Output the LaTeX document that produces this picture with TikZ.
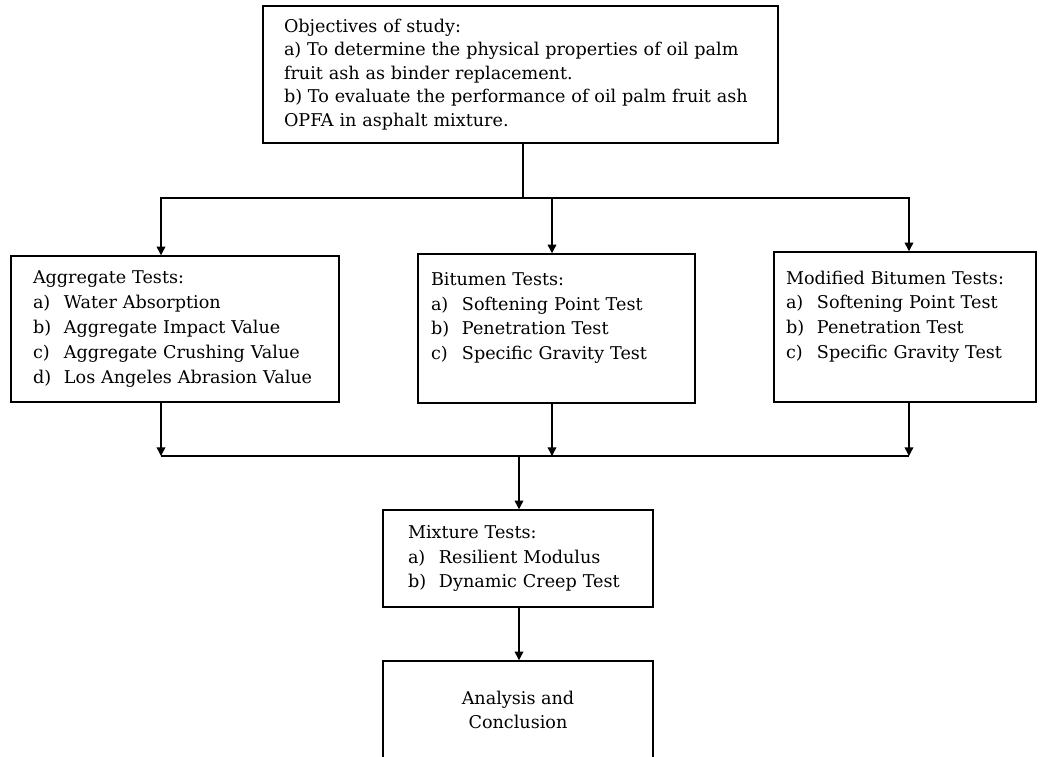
\documentclass[tikz,border=0pt]{standalone}
\usepackage{fontspec}
\setmainfont{DejaVu Serif}
\usetikzlibrary{arrows.meta,positioning,calc}
\newlength\px
\setlength\px{0.75pt}
\newcommand{\itm}[1]{\makebox[31\px][l]{#1}}

\begin{document}
\begin{tikzpicture}[x=1\px,y=-1\px,
    box/.style={draw,line width=1.1pt,rectangle,align=left,inner ysep=0pt,
        font=\fontsize{13.2}{18.6}\selectfont},
    flow/.style={line width=1.05pt,-{Triangle[length=6.5pt,width=6.5pt]}},
    link/.style={line width=1.05pt}]
            \useasboundingbox (0,0) rectangle (1040,757);
            \node[box,minimum width=515\px,minimum height=137\px,
                inner xsep=21\px,text width=473\px,
                font=\fontsize{13.2}{17.6}\selectfont]
            (obj) at (520.5,74.5) {Objectives of study:\\
                a) To determine the physical properties of oil palm\\
                fruit ash as binder replacement.\\
                b) To evaluate the performance of oil palm fruit ash\\
                OPFA in asphalt mixture.};
            \node[box,minimum width=328\px,minimum height=146\px,
                inner xsep=22\px,text width=284\px]
            (agg) at (175,329) {Aggregate Tests:\\
                \itm{a)}Water Absorption\\
                \itm{b)}Aggregate Impact Value\\
                \itm{c)}Aggregate Crushing Value\\
                \itm{d)}Los Angeles Abrasion Value};
            \node[box,minimum width=277\px,minimum height=149\px,
                inner xsep=13\px,text width=251\px]
            (bit) at (556.5,328.5) {Bitumen Tests:\\
                \itm{a)}Softening Point Test\\
                \itm{b)}Penetration Test\\
                \itm{c)}Specific Gravity Test\\ \mbox{}};
            \node[box,minimum width=262\px,minimum height=150\px,
                inner xsep=12\px,text width=238\px]
            (mod) at (905,327) {Modified Bitumen Tests:\\
                \itm{a)}Softening Point Test\\
                \itm{b)}Penetration Test\\
                \itm{c)}Specific Gravity Test\\ \mbox{}};
            \node[box,minimum width=270\px,minimum height=97\px,
                inner xsep=25\px,text width=220\px]
            (mix) at (518,558.5) {Mixture Tests:\\
                \itm{a)}Resilient Modulus\\
                \itm{b)}Dynamic Creep Test};
            \node[box,align=center,minimum width=270\px,minimum height=98\px]
            (ana) at (518,710) {Analysis and\\ Conclusion};

            \coordinate (tl) at (161,198);
            \coordinate (tm) at (523,198);
            \coordinate (tb) at (552,198);
            \coordinate (tr) at (909,198);
            \draw[link] (obj.south -| tm) -- (tm);
            \draw[flow] (tm) -- (tl) -- (tl |- agg.north);
            \draw[flow] (tm) -- (tr) -- (tr |- mod.north);
            \draw[flow] (tb) -- (tb |- bit.north);

            \coordinate (bl) at (161,456);
            \coordinate (bm) at (519,456);
            \coordinate (bb) at (552,456);
            \coordinate (br) at (909,456);
            \draw[flow] (agg.south -| bl) -- (bl);
            \draw[flow] (bit.south -| bb) -- (bb);
            \draw[flow] (mod.south -| br) -- (br);
            \draw[link] (bl) -- (br);
            \draw[flow] (bm) -- (bm |- mix.north);
            \draw[flow] (mix.south -| bm) -- (bm |- ana.north);
        \end{tikzpicture}
\end{document}
